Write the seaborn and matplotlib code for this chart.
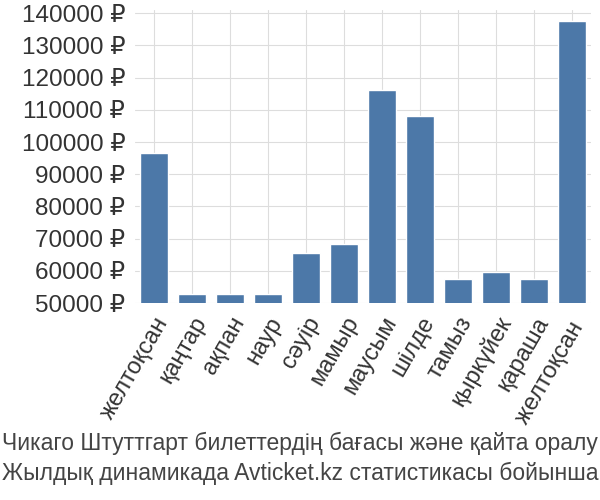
import matplotlib
matplotlib.use("Agg")
import matplotlib.pyplot as plt
import seaborn as sns
import pandas as pd

months = ["желтоқсан","қаңтар","ақпан","наур","сәуір","мамыр","маусым","шілде","тамыз","қыркүйек","қараша","желтоқсан "]
prices = [96700, 52800, 52800, 52800, 65600, 68400, 116000, 108200, 57500, 59600, 57500, 137500]
ticks = list(range(50000, 140001, 10000))
tick_labels = [f"{t} ₽" for t in ticks]

sns.set_style("whitegrid")
plt.rcParams['font.family'] = ['Liberation Sans', 'DejaVu Sans']
fig = plt.figure(figsize=(6, 5), dpi=100)
ax = fig.add_axes([0.225, 0.394, 0.76, 0.586])
df = pd.DataFrame({"m": months, "p": prices})
sns.barplot(data=df, x="m", y="p", color="#4c78a8", width=0.73, ax=ax, saturation=1)
ax.set_ylim(50000, 141000)
ax.set_yticks(ticks)
ax.set_yticklabels(tick_labels, fontsize=17.5, color="#333333")
ax.set_xticks(range(len(months)))
ax.set_xticklabels(months, rotation=60, ha="right", rotation_mode="anchor", fontsize=17, color="#333333")
ax.set_xlabel(""); ax.set_ylabel("")
ax.grid(True, color="#dddddd")
for s in ax.spines.values():
    s.set_visible(False)
fig.text(0.003, 0.10, "Чикаго Штуттгарт билеттердің бағасы және қайта оралу", fontsize=16.5, color="#444444")
fig.text(0.003, 0.04, "Жылдық динамикада Avticket.kz статистикасы бойынша.", fontsize=16.5, color="#444444")
fig.savefig("out.png", dpi=100)
